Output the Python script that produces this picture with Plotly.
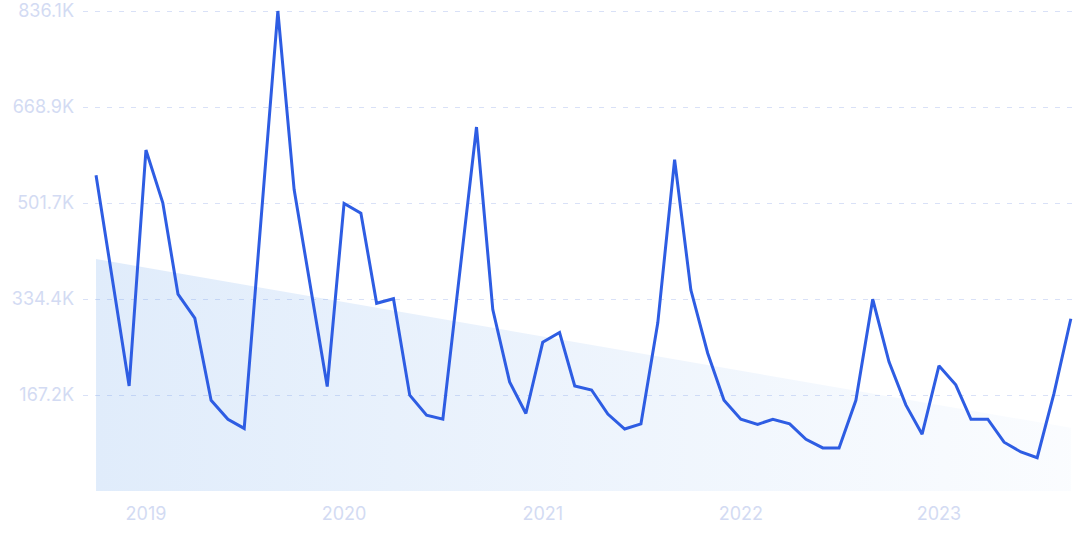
import pandas as pd
import plotly.graph_objects as go

# Monthly values (thousands), Oct 2018 .. Sep 2023
months = pd.date_range("2018-10-01", periods=60, freq="MS")
values_k = [
    550, 365, 183, 594, 502, 343, 301, 158, 125, 109, 472, 836.1,
    525, 352, 182, 501, 484, 327, 335, 167, 132, 125, 381, 634,
    316, 190, 135, 259, 276, 183, 176, 134, 108, 117, 293, 577,
    350, 240, 158, 125, 116, 125, 117, 90, 75, 75, 158, 334,
    225, 150, 99, 218, 185, 125, 125, 85, 68, 58, 170, 300,
]
values = [v * 1000 for v in values_k]

# Trend band endpoints
trend_x = [months[0], months[-1]]
trend_y = [404000, 110000]

ytick_vals = [167220, 334440, 501660, 668880, 836100]
ytick_text = ["167.2K", "334.4K", "501.7K", "668.9K", "836.1K"]
xtick_vals = ["2019-01-01", "2020-01-01", "2021-01-01", "2022-01-01", "2023-01-01"]
xtick_text = ["2019", "2020", "2021", "2022", "2023"]

label_color = "#d3dbf3"
grid_color = "#d9e1f7"

fig = go.Figure()
fig.add_trace(go.Scatter(
    x=trend_x, y=trend_y, mode="lines", line=dict(width=0),
    fill="tozeroy",
    fillgradient=dict(type="horizontal",
                      colorscale=[[0, "rgba(100,160,235,0.2)"], [1, "rgba(100,160,235,0.03)"]]),
    hoverinfo="skip", showlegend=False,
))
fig.add_trace(go.Scatter(
    x=months, y=values, mode="lines",
    line=dict(color="#2e5de3", width=3),
    showlegend=False,
))

fig.update_layout(
    width=1075, height=537,
    margin=dict(l=83, r=2, t=5, b=46),
    paper_bgcolor="white", plot_bgcolor="rgba(0,0,0,0)",
    font=dict(family="Inter", size=18, color=label_color),
)
fig.update_xaxes(
    range=["2018-09-07", "2023-09-05"],
    tickvals=xtick_vals, ticktext=xtick_text,
    showgrid=False, zeroline=False, showline=False, automargin=False,
    ticks="", ticklabelstandoff=10,
    tickfont=dict(family="Inter", size=18, color=label_color),
)
fig.update_yaxes(
    range=[0, 836100 * 486 / 480],
    tickvals=ytick_vals, ticktext=ytick_text,
    showgrid=True, gridcolor=grid_color, gridwidth=1, griddash="5px,7px",
    zeroline=False, showline=False, ticks="", ticklabelstandoff=8, automargin=False,
    ticklabeloverflow="allow",
    tickfont=dict(family="Inter", size=18, color=label_color),
)

fig.write_html("out.html", config={"displayModeBar": False},
               post_script="document.body.style.margin='0';")
